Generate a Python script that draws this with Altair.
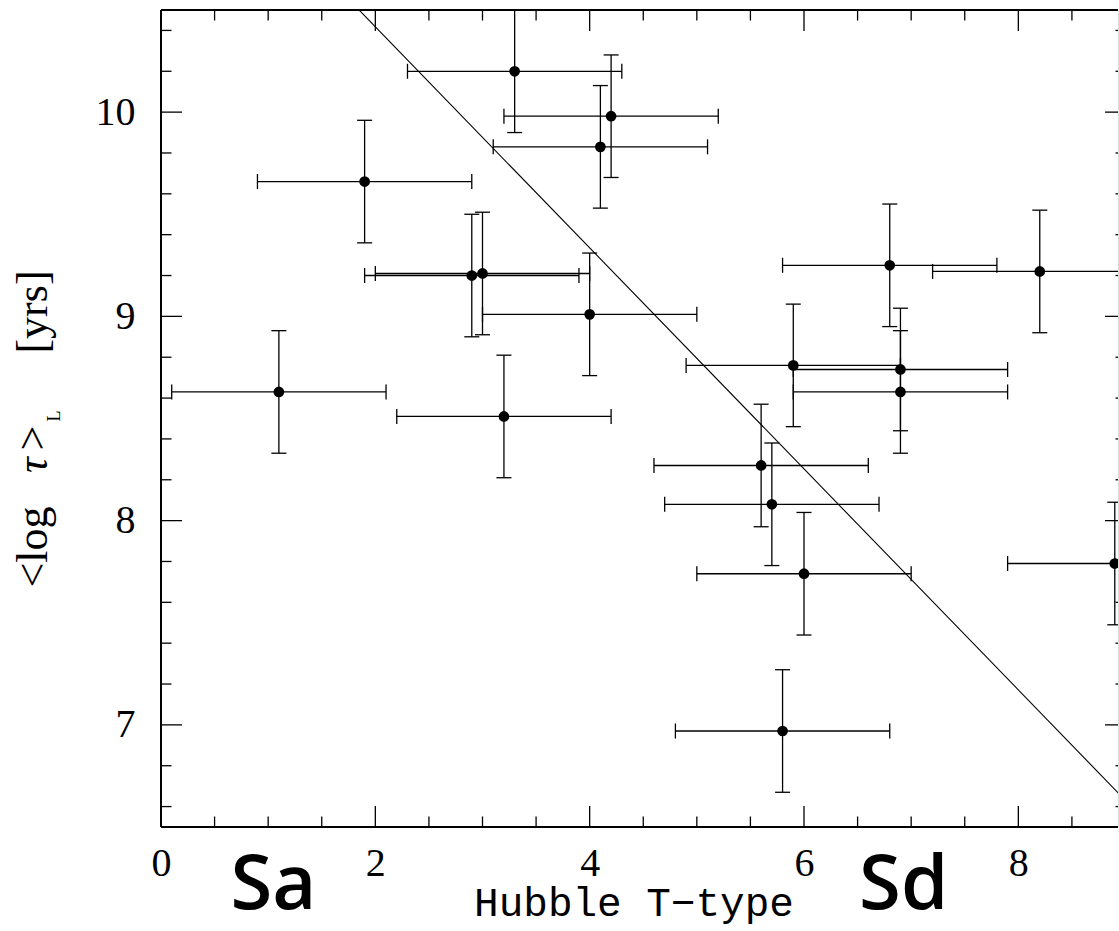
import altair as alt
import pandas as pd

# ---- data ----
ttype = [1.10, 1.90, 3.30, 4.20, 4.10, 2.90, 3.00, 4.00, 3.20, 6.80,
         8.20, 5.90, 6.90, 6.90, 5.60, 5.70, 6.00, 5.80, 8.90]
logtau = [8.63, 9.66, 10.20, 9.98, 9.83, 9.20, 9.21, 9.01, 8.51, 9.25,
          9.22, 8.76, 8.74, 8.63, 8.27, 8.08, 7.74, 6.97, 7.79]
xerr = [1.0, 1.0, 1.0, 1.0, 1.0, 1.0, 1.0, 1.0, 1.0, 1.0,
        1.0, 1.0, 1.0, 1.0, 1.0, 1.0, 1.0, 1.0, 1.0]
yerr = [0.3, 0.3, 0.3, 0.3, 0.3, 0.3, 0.3, 0.3, 0.3, 0.3,
        0.3, 0.3, 0.3, 0.3, 0.3, 0.3, 0.3, 0.3, 0.3]

fit_x = [0.0, 9.0]
fit_y = [11.50, 6.63]

x_major = [0, 2, 4, 6, 8]
x_minor = [0.5, 1, 1.5, 2.5, 3, 3.5, 4.5, 5, 5.5, 6.5, 7, 7.5, 8.5]
y_major = [7, 8, 9, 10]
y_minor = [6.6, 6.8, 7.2, 7.4, 7.6, 7.8, 8.2, 8.4, 8.6, 8.8,
           9.2, 9.4, 9.6, 9.8, 10.2, 10.4]

type_labels = ["Sa", "Sd"]
type_label_x = [1.05, 6.93]

# ---- layout ----
W, H = 957, 817
SERIF = "Liberation Serif"

df = pd.DataFrame({"t": ttype, "l": logtau, "xe": xerr, "ye": yerr})
df["xlo"] = df["t"] - df["xe"]
df["xhi"] = df["t"] + df["xe"]
df["ylo"] = df["l"] - df["ye"]
df["yhi"] = df["l"] + df["ye"]

xs = alt.Scale(domain=[0, 8.93], nice=False, zero=False)
ys = alt.Scale(domain=[6.5, 10.5], nice=False, zero=False)

xaxis = alt.Axis(values=x_major, title=None, ticks=False, tickSize=0, domain=False,
                 grid=False, labelFont=SERIF, labelFontSize=40, labelColor="black",
                 labelPadding=16, labelFlush=False, labelOverlap=False)
yaxis = alt.Axis(values=y_major, title=None, ticks=False, tickSize=0, domain=False,
                 grid=False, labelFont=SERIF, labelFontSize=40, labelColor="black",
                 labelPadding=26, labelFlush=False, labelOverlap=False)


def X(field):
    return alt.X(field, scale=xs, axis=xaxis, title=None)


def Y(field):
    return alt.Y(field, scale=ys, axis=yaxis, title=None)


base = alt.Chart(df)
LW = 1.3

points = base.mark_circle(size=115, color="black", opacity=1, clip=True).encode(
    x=X("t:Q"), y=Y("l:Q"))
xbar = base.mark_rule(color="black", strokeWidth=LW, clip=True).encode(
    x=X("xlo:Q"), x2="xhi:Q", y=Y("l:Q"))
ybar = base.mark_rule(color="black", strokeWidth=LW, clip=True).encode(
    x=X("t:Q"), y=Y("ylo:Q"), y2="yhi:Q")
xcap_lo = base.mark_rule(color="black", strokeWidth=LW, clip=True,
                         yOffset=-7.5, y2Offset=7.5).encode(
    x=X("xlo:Q"), y=Y("l:Q"), y2="l:Q")
xcap_hi = base.mark_rule(color="black", strokeWidth=LW, clip=True,
                         yOffset=-7.5, y2Offset=7.5).encode(
    x=X("xhi:Q"), y=Y("l:Q"), y2="l:Q")
ycap_lo = base.mark_rule(color="black", strokeWidth=LW, clip=True,
                         xOffset=-7.5, x2Offset=7.5).encode(
    x=X("t:Q"), x2="t:Q", y=Y("ylo:Q"))
ycap_hi = base.mark_rule(color="black", strokeWidth=LW, clip=True,
                         xOffset=-7.5, x2Offset=7.5).encode(
    x=X("t:Q"), x2="t:Q", y=Y("yhi:Q"))

fit = alt.Chart(pd.DataFrame({"fx": fit_x, "fy": fit_y})).mark_line(
    color="black", strokeWidth=1.1, clip=True).encode(
    x=X("fx:Q"), y=Y("fy:Q"))


# ---- inward ticks on all four sides ----
def xticks(vals, length):
    d = alt.Chart(pd.DataFrame({"v": vals}))
    bottom = d.mark_rule(color="black", strokeWidth=LW).encode(
        x=X("v:Q"), y=alt.value(H - length), y2=alt.value(H))
    top = d.mark_rule(color="black", strokeWidth=LW).encode(
        x=X("v:Q"), y=alt.value(0), y2=alt.value(length))
    return [bottom, top]


def yticks(vals, length, right_visible):
    d = alt.Chart(pd.DataFrame({"v": vals}))
    left = d.mark_rule(color="black", strokeWidth=LW).encode(
        y=Y("v:Q"), x=alt.value(0), x2=alt.value(length))
    right = d.mark_rule(color="black", strokeWidth=LW).encode(
        y=Y("v:Q"), x=alt.value(W - right_visible), x2=alt.value(W))
    return [left, right]


ticks = (xticks(x_major, 21) + xticks(x_minor, 10.5)
         + yticks(y_major, 21, 13) + yticks(y_minor, 10.5, 2.5))

# frame (left, bottom, top; right edge lies beyond the picture)
frame = [
    alt.Chart().mark_rule(color="black", strokeWidth=2).encode(
        x=alt.value(0), x2=alt.value(W), y=alt.value(0)),
    alt.Chart().mark_rule(color="black", strokeWidth=2).encode(
        x=alt.value(0), x2=alt.value(W), y=alt.value(H)),
    alt.Chart().mark_rule(color="black", strokeWidth=2).encode(
        x=alt.value(0), y=alt.value(0), y2=alt.value(H)),
]


# ---- texts ----
def ytitle(txt, ycenter, xbase, size, style="normal"):
    return alt.Chart().mark_text(text=txt, font=SERIF, fontSize=size, fontStyle=style,
                                 angle=270, align="center", baseline="alphabetic",
                                 color="black").encode(
        x=alt.value(xbase), y=alt.value(ycenter))


y_title = [
    ytitle("<log", 537, -114, 44),
    ytitle("τ", 455, -114, 44, "italic"),
    ytitle(">", 428, -114, 44),
    ytitle("L", 406, -101, 18),
    ytitle("[yrs]", 302, -114, 44),
]

x_title = alt.Chart().mark_text(text="Hubble T−type", font="Liberation Mono",
                                fontSize=41, align="center", baseline="alphabetic",
                                color="black").encode(
    x=alt.value(473), y=alt.value(906))

type_txt = alt.Chart(pd.DataFrame({"lab": type_labels, "px": type_label_x})).mark_text(
    font="Open Sans", fontWeight=600, fontSize=76, align="center",
    baseline="alphabetic", color="black").encode(
    x=X("px:Q"), y=alt.value(899), text="lab:N")

chart = alt.layer(
    fit, xbar, ybar, xcap_lo, xcap_hi, ycap_lo, ycap_hi, points,
    *ticks, *frame, *y_title, x_title, type_txt,
).properties(
    width=W, height=H,
    autosize=alt.AutoSizeParams(type="none"),
    padding={"left": 161, "top": 10, "right": 1, "bottom": 104},
).configure_view(stroke=None).configure(background="white")

chart.save("out.html", embed_options={"renderer": "svg", "actions": False})
